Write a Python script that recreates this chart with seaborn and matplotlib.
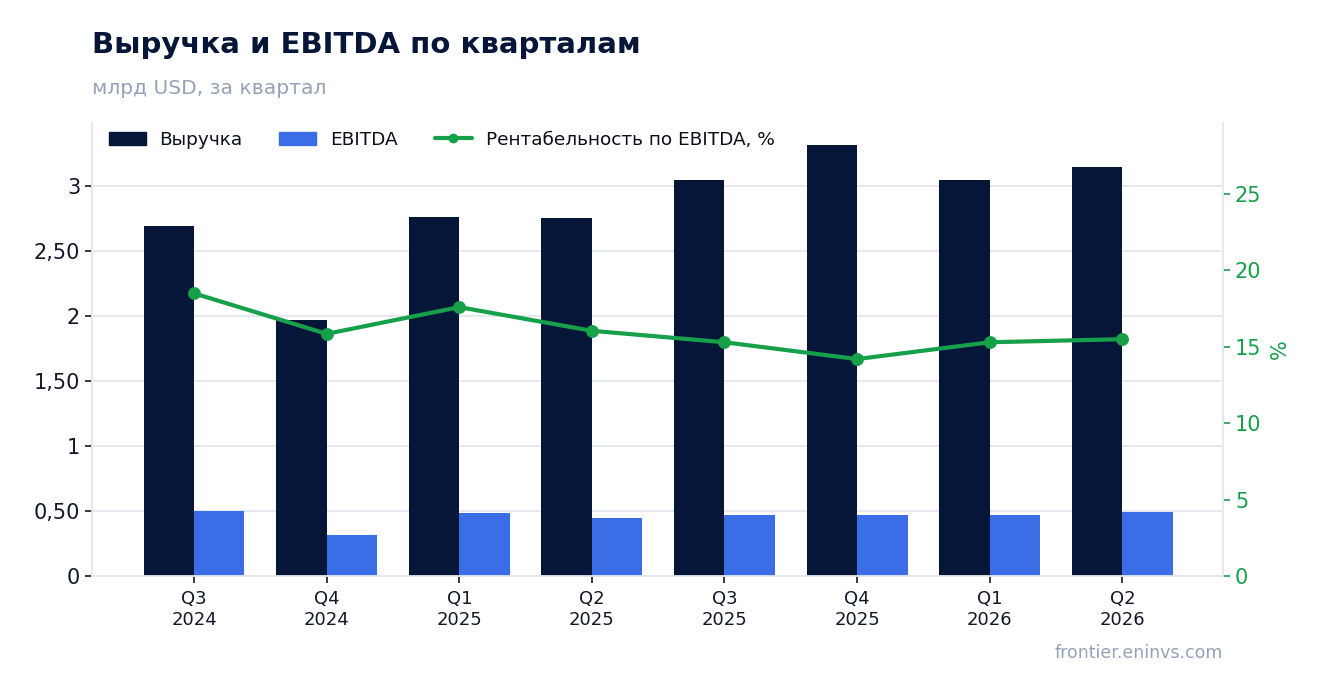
import matplotlib.pyplot as plt
import matplotlib.ticker as mticker
import pandas as pd
import seaborn as sns

# Data (млрд USD per quarter, margin in %)
quarters = ['Q3\n2024', 'Q4\n2024', 'Q1\n2025', 'Q2\n2025',
            'Q3\n2025', 'Q4\n2025', 'Q1\n2026', 'Q2\n2026']
revenue = [2.69, 1.97, 2.76, 2.755, 3.045, 3.315, 3.05, 3.145]
ebitda = [0.50, 0.315, 0.485, 0.445, 0.47, 0.47, 0.47, 0.49]
margin = [18.5, 15.85, 17.6, 16.05, 15.3, 14.2, 15.3, 15.5]

NAVY = '#061639'
BLUE = '#3b6de6'
GREEN = '#16a04a'
GRID = '#e3e7ee'
GREY = '#94a3b8'

sns.set_style('white')
plt.rcParams['font.family'] = ['DejaVu Sans']

df = pd.DataFrame({'quarter': quarters * 2,
                   'value': revenue + ebitda,
                   'series': ['Выручка'] * len(quarters) + ['EBITDA'] * len(quarters)})

fig = plt.figure(figsize=(13.23, 6.93), dpi=100)
ax = fig.add_axes([0.0695, 0.1688, 0.855, 0.6537])

sns.barplot(data=df, x='quarter', y='value', hue='series',
            palette={'Выручка': NAVY, 'EBITDA': BLUE},
            width=0.76, saturation=1, gap=0, linewidth=0,
            ax=ax, legend=False, zorder=2)

ax.set_ylim(0, 3.485)
ax.set_xlim(-0.77, 7.76)
ax.yaxis.set_major_locator(mticker.MultipleLocator(0.5))
ax.yaxis.set_major_formatter(mticker.FuncFormatter(
    lambda v, p: f'{v:g}' if float(v).is_integer() else f'{v:.2f}'.replace('.', ',')))
ax.grid(axis='y', color=GRID, lw=1.3, zorder=0)
ax.set_axisbelow(True)
ax.set_xlabel('')
ax.set_ylabel('')
ax.tick_params(axis='y', labelsize=15, colors='#111827', length=5, width=1.2, left=True)
ax.tick_params(axis='x', labelsize=13, colors='#111827', length=5, width=1.2,
               bottom=True, pad=5)
for s in ['top', 'right']:
    ax.spines[s].set_visible(False)
for s in ['left', 'bottom']:
    ax.spines[s].set_color(GRID)
    ax.spines[s].set_linewidth(1.3)

ax2 = ax.twinx()
sns.pointplot(x=quarters, y=margin, color=GREEN, markers='o', linewidth=3,
              markersize=7, ax=ax2, errorbar=None)
ax2.set_xlim(-0.77, 7.76)
ax2.set_ylim(0, 29.65)
ax2.yaxis.set_major_locator(mticker.MultipleLocator(5))
ax2.tick_params(axis='y', labelsize=15, colors=GREEN, length=5, width=1.2, right=True)
ax2.set_ylabel('%', color=GREEN, fontsize=15, labelpad=6)
for s in ['top', 'left', 'bottom']:
    ax2.spines[s].set_visible(False)
ax2.spines['right'].set_color(GRID)
ax2.spines['right'].set_linewidth(1.3)

handles = [plt.Rectangle((0, 0), 1, 1, color=NAVY),
           plt.Rectangle((0, 0), 1, 1, color=BLUE),
           plt.Line2D([], [], color=GREEN, lw=3, marker='o', markersize=6)]
ax2.legend(handles, ['Выручка', 'EBITDA', 'Рентабельность по EBITDA, %'],
           loc='upper left', bbox_to_anchor=(0.0, 1.02), ncol=3, frameon=False,
           fontsize=13.3, handlelength=2.0, handleheight=0.7, columnspacing=2.0,
           handletextpad=0.75, labelcolor='#0b0f19')

fig.text(0.0695, 0.923, 'Выручка и EBITDA по кварталам', fontsize=21,
         fontweight='bold', color=NAVY, va='baseline')
fig.text(0.0695, 0.865, 'млрд USD, за квартал', fontsize=14.6, color=GREY, va='baseline')
fig.text(0.9244, 0.05, 'frontier.eninvs.com', fontsize=12.5, color=GREY,
         ha='right', va='baseline')

fig.savefig('out.png', dpi=100)
